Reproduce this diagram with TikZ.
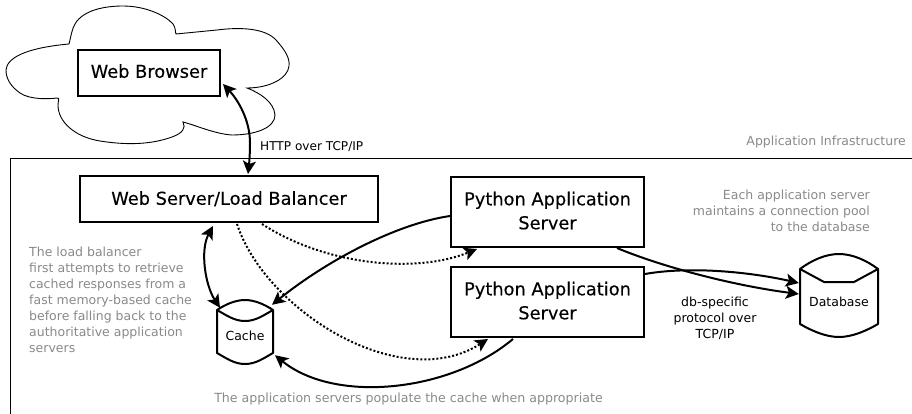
\documentclass[tikz,border=0pt]{standalone}
\usepackage{fontspec}
\setmainfont{DejaVu Sans}
\newfontfamily\boxfont[FakeBold=0.25]{DejaVu Sans}
\usetikzlibrary{arrows.meta}
\definecolor{note}{HTML}{8A8A8A}
\tikzset{
  boxnode/.style={draw=black,line width=2pt,inner sep=0pt,align=center,font=\boxfont\fontsize{17.8}{24}\selectfont},
  cylnode/.style={inner sep=0pt},
  outline/.style={line width=2pt,line join=round},
  label/.style={inner sep=0pt,font=\fontsize{12.5}{16}\selectfont,align=center},
  notelabel/.style={label,text=note},
  tip/.style={-{Stealth[length=13pt,width=13pt,inset=3pt]}},
  twotip/.style={{Stealth[length=13pt,width=13pt,inset=3pt]}-{Stealth[length=13pt,width=13pt,inset=3pt]}},
  link/.style={line width=2pt},
  dotlink/.style={line width=2pt,dash pattern=on 2pt off 2pt}
}
\begin{document}
\begin{tikzpicture}[x=1pt,y=-1pt]
\useasboundingbox[fill=white] (0,0) rectangle (912,414);
% cloud
\draw[line width=0.9pt] (69,44) .. controls (71,36) and (72,29) .. (75,24)
  .. controls (83,10) and (105,6) .. (123,6)
  .. controls (145,6) and (165,15) .. (173,24)
  .. controls (176,28) and (175,32) .. (176,34)
  -- (217,30)
  .. controls (240,27) and (265,28) .. (276,40)
  .. controls (285,50) and (290,58) .. (289,66)
  .. controls (288,78) and (270,88) .. (247,88)
  .. controls (260,93) and (274,102) .. (275,115)
  .. controls (275,128) and (255,135) .. (232,135)
  .. controls (215,134) and (195,125) .. (183,122)
  .. controls (186,128) and (183,133) .. (172,137)
  .. controls (150,145) and (125,145) .. (100,141)
  .. controls (75,137) and (58,122) .. (58,105)
  .. controls (58,101) and (60,98) .. (57,98)
  .. controls (50,99) and (30,100) .. (20,93)
  .. controls (10,86) and (6,78) .. (6,70)
  .. controls (7,58) and (25,48) .. (69,44) -- cycle;
% infrastructure frame
\draw[line width=1pt] (912,158.5) -- (10,158.5) -- (10,414);
% boxes
\node[boxnode,minimum width=142pt,minimum height=46pt] (wb) at (149,73) {Web Browser\rule[-4pt]{0pt}{1pt}};
\node[boxnode,minimum width=298pt,minimum height=46pt] (lb) at (229,199) {Web Server/Load Balancer\rule[-2pt]{0pt}{1pt}};
\node[boxnode,minimum width=193pt,minimum height=70pt] (py1) at (547.5,212) {Python Application\\Server\rule[-3pt]{0pt}{1pt}};
\node[boxnode,minimum width=193pt,minimum height=70pt] (py2) at (547.5,302) {Python Application\\Server\rule[-3pt]{0pt}{1pt}};
% cylinders
\node[cylnode,minimum width=56pt,minimum height=64pt] (cache) at (245,332) {};
\node[cylnode,minimum width=78pt,minimum height=83pt] (db) at (839,295.5) {};
\draw[outline] (217,310) .. controls (226,304) and (236,300) .. (245,300) .. controls (254,300) and (264,304) .. (273,310)
  -- (273,353) .. controls (264,358) and (256,364) .. (245,364) .. controls (234,364) and (226,358) .. (217,353) -- cycle;
\draw[outline] (217,310) .. controls (226,315) and (234,321) .. (245,321) .. controls (256,321) and (264,315) .. (273,310);
\draw[outline] (800,269) .. controls (812,260) and (826,254) .. (839,254) .. controls (852,254) and (866,260) .. (878,269)
  -- (878,324) .. controls (866,331) and (852,337) .. (839,337) .. controls (826,337) and (812,331) .. (800,324) -- cycle;
\draw[outline] (800,269) -- (824,282) -- (854,282) -- (878,269);
\node[label] (cachetext) at (245,336) {Cache};
\node[label] (dbtext) at (839,301.5) {Database};
% connectors
\draw[link,twotip] ([xshift=2pt,yshift=-11pt]wb.east) .. controls (238,100) and (250,120) .. (250,143) .. controls (250,155) and (249,165) .. ([xshift=19pt,yshift=1pt]lb.north);
\draw[link,twotip] ([xshift=-16pt,yshift=-3pt]lb.south) .. controls (200,250) and (205,285) .. ([xshift=-25pt,yshift=-8pt]cache.north);
\draw[dotlink,tip] ([xshift=33pt,yshift=-1pt]lb.south) .. controls (325,265) and (415,274) .. ([xshift=-70.5pt,yshift=-1pt]py1.south);
\draw[dotlink,tip] ([xshift=8pt,yshift=-1pt]lb.south) .. controls (265,310) and (400,395) .. ([xshift=-59.5pt,yshift=-1pt]py2.south);
\draw[link,tip] ([yshift=-4pt]py1.west) .. controls (395,224) and (325,262) .. ([xshift=27pt,yshift=-5pt]cache.north);
\draw[link,tip] ([xshift=-34.5pt,yshift=-1pt]py2.south) .. controls (450,392) and (335,404) .. ([xshift=30pt,yshift=9pt]cache.south);
\draw[link,tip] ([xshift=69.5pt]py1.south) .. controls (660,266) and (730,285) .. ([xshift=-1pt,yshift=1.5pt]db.west);
\draw[link,tip] ([yshift=28pt]py2.east) .. controls (690,266) and (750,272) .. ([xshift=-1pt,yshift=12.5pt]db.west);
% labels
\node[label,anchor=west,font=\fontsize{12.1}{16}\selectfont] (http) at (260,146.5) {HTTP over TCP/IP};
\node[notelabel,anchor=east] (infra) at (906,142.5) {Application Infrastructure};
\node[notelabel,anchor=north west,align=left] (lbnote) at (29,247) {The load balancer\\first attempts to retrieve\\cached responses from a\\fast memory-based cache\\before falling back to the\\authoritative application\\servers};
\node[notelabel,anchor=north east,align=right] (pool) at (870,189.5) {Each application server\\maintains a connection pool\\to the database};
\node[label] (proto) at (715,318) {db-specific\\protocol over\\TCP/IP};
\node[notelabel,font=\fontsize{12.6}{16}\selectfont] (pop) at (408.5,399.5) {The application servers populate the cache when appropriate};
\end{tikzpicture}
\end{document}
